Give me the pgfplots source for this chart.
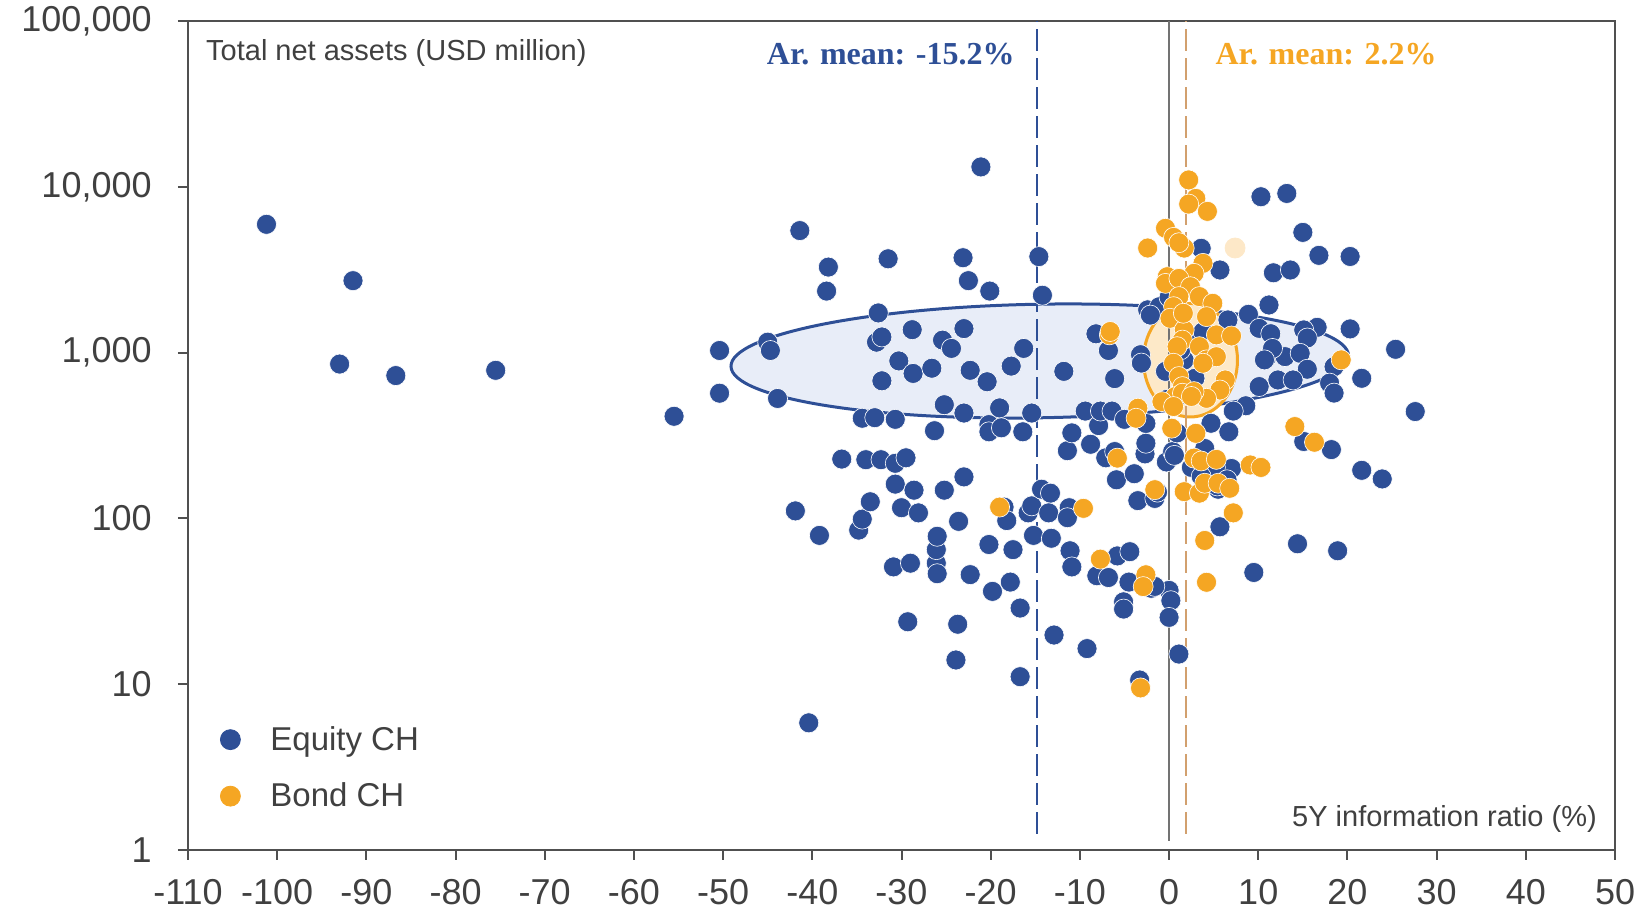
\documentclass[border=0pt]{standalone}
\usepackage{pgfplots}
\pgfplotsset{compat=1.18}
\usepackage{fontspec}
\setmainfont{Liberation Sans}
\newfontfamily\meanfont{Liberation Serif}
\definecolor{eqblue}{HTML}{2E4F96}
\definecolor{bondor}{HTML}{F5A623}
\definecolor{peach}{HTML}{FDE8C8}
\definecolor{ellblue}{HTML}{E8EDF8}
\definecolor{ellor}{HTML}{FDE9C8}
\definecolor{tanline}{HTML}{D2A06E}
\definecolor{axgrey}{HTML}{505050}
\definecolor{txtgrey}{HTML}{404040}
\begin{document}
\begin{tikzpicture}
\useasboundingbox (-94pt,-31pt) rectangle (724pt,425pt);
\begin{axis}[
  scale only axis, width=713.5pt, height=414.5pt,
  xmin=-110, xmax=50, ymode=log, ymin=1, ymax=100000,
  axis line style={draw=axgrey, line width=1pt},
  xtick={-110,-100,...,50},
  xticklabels={-110,-100,-90,-80,-70,-60,-50,-40,-30,-20,-10,0,10,20,30,40,50},
  ytick={1,10,100,1000,10000,100000},
  yticklabels={1,10,100,{1,000},{10,000},{100,000}},
  yminorticks=false,
  xtick pos=lower, ytick pos=left,
  tick align=outside, major tick length=5pt,
  tick style={draw=axgrey, line width=1pt},
  xticklabel style={font=\fontsize{18}{18}\selectfont, text=txtgrey, inner sep=0pt, anchor=north, yshift=-9.5pt},
  yticklabel style={font=\fontsize{18}{18}\selectfont, text=txtgrey, inner sep=0pt, anchor=east, xshift=-13pt},
  legend style={draw=none, fill=none, at={(rel axis cs:0,0)}, anchor=south west, xshift=15.8pt, yshift=20pt,
    font=\fontsize{16.5}{20}\selectfont, text=txtgrey, row sep=14.8pt, column sep=14.8pt, inner sep=0pt,
    nodes={inner sep=0pt}},
  legend cell align=left,
  legend image code/.code={\fill[#1] (5pt,0pt) circle (5pt);},
]
% ellipses
\draw[eqblue, line width=1.5pt, fill=ellblue, rotate around={1:(axis cs:-14.5,890)}] (axis cs:-14.5,890) ellipse [x radius=154.4pt, y radius=28.4pt];
\draw[bondor, line width=1.5pt, fill=ellor] (axis cs:2.4,900) ellipse [x radius=23.5pt, y radius=28.4pt];

\addplot[only marks, mark=*, color=eqblue, mark size=5pt, mark options={draw=white, line width=0.3pt, fill=eqblue}] coordinates {
(-101.2,5940) (-91.5,2716) (-93.0,853) (-86.7,727) (-75.5,782) (-55.5,413)
(-50.4,1030) (-50.4,569) (-45.0,1156) (-44.7,1030) (-43.9,529) (-41.4,5445)
(-41.9,111) (-40.4,5.85) (-39.2,79) (-38.2,3280) (-38.4,2350) (-36.7,228)
(-34.8,85) (-34.4,99) (-34.4,402) (-33.5,126) (-34.0,226) (-33.0,405)
(-32.6,1735) (-32.8,1156) (-32.2,1243) (-31.5,3680) (-32.2,676) (-32.3,226)
(-30.9,51) (-30.7,161) (-30.7,396) (-30.7,215) (-30.3,891) (-30.0,116)
(-29.5,232) (-29.3,23.8) (-29.0,53.7) (-28.8,1375) (-28.7,749) (-28.6,148)
(-28.1,108) (-26.6,805) (-26.3,338) (-26.1,53.7) (-26.1,64.8) (-26.0,78)
(-26.0,46.4) (-25.4,1189) (-25.2,148) (-25.2,485) (-24.4,1060) (-23.7,23)
(-23.9,14.0) (-23.6,96) (-23.0,432) (-23.0,178) (-23.1,3735) (-23.0,1396)
(-22.5,2716) (-22.3,782) (-22.3,45.8) (-21.1,13180) (-20.4,667) (-20.2,69.6)
(-20.2,368) (-20.1,2350) (-20.2,333) (-19.8,36.3) (-19.0,464) (-18.8,352)
(-18.5,117) (-18.2,97) (-17.8,41.3) (-17.7,829) (-17.5,64.8) (-16.7,28.8)
(-16.7,11.1) (-16.3,1060) (-16.4,333) (-15.8,108) (-15.4,119) (-15.2,79)
(-14.6,3793) (-14.2,2218) (-15.4,432) (-14.3,150) (-13.3,142) (-13.5,108)
(-13.2,75.9) (-12.9,19.8) (-11.8,771) (-11.4,256) (-11.2,116) (-11.1,63.8)
(-10.9,51) (-10.9,328) (-11.4,101) (-9.4,444) (-9.2,16.4) (-8.8,280)
(-8.2,1298) (-8.1,45.1) (-7.9,363) (-7.7,444) (-7.1,232) (-6.8,44)
(-6.8,1030) (-6.4,444) (-6.1,253) (-6.1,697) (-5.9,171) (-5.8,59.4)
(-5.1,31.4) (-5.1,28.4) (-5.0,396) (-4.5,41.3) (-4.4,63) (-3.9,186)
(-3.5,128) (-3.3,10.6) (-3.2,971) (-3.1,865) (-2.7,245) (-2.6,374)
(-2.6,284) (-2.4,1811) (-2.0,37.9) (-1.6,132) (-1.3,144) (-1.1,1891)
(-0.4,771) (-0.3,219) (0.0,36.8) (0.2,31.9) (0.0,25.3) (0.4,253)
(0.6,240) (1.1,15.2) (0.9,328) (0.0,2155) (0.8,2640) (1.2,552)
(-0.3,521) (1.7,900) (2.9,700) (2.0,1200) (-2.1,1684) (-1.6,38.9)
(3.6,4256) (5.7,3150) (10.3,8710) (13.2,9120) (15.0,5310) (16.8,3860)
(20.3,3800) (11.7,3030) (13.6,3150) (11.2,1938) (8.9,1702) (6.6,1574)
(20.3,1390) (16.6,1420) (15.1,1370) (15.5,1225) (10.1,1400) (11.4,1300)
(10.9,925) (13.0,946) (14.7,990) (11.6,1060) (15.5,794) (12.2,684)
(13.9,684) (10.1,624) (18.5,822) (18.0,655) (18.5,570) (21.6,700)
(25.4,1047) (27.6,441) (8.6,478) (7.2,444) (6.7,333) (4.7,375)
(10.7,904) (1.3,1040) (1.1,569) (3.8,1336) (15.1,291) (18.2,260)
(21.6,195) (23.9,173) (7.0,200) (4.3,215) (5.2,203) (2.5,203)
(3.6,179) (5.5,150) (5.4,157) (6.5,171) (5.7,89) (9.5,47.2)
(14.4,70.3) (18.9,63.8) (4.0,264)
};
\addlegendentry{Equity CH}
\addplot[only marks, mark=*, color=bondor, mark size=5pt, mark options={draw=white, line width=0.3pt, fill=bondor}] coordinates {
(2.2,11000) (3.0,8510) (2.2,7870) (4.3,7110) (-0.4,5620) (0.5,4955)
(-2.4,4275) (1.7,4270) (1.1,4600) (3.8,3455) (2.8,3006) (-0.2,2870)
(-0.4,2616) (1.1,2800) (2.4,2497) (3.4,2177) (4.9,1983) (4.2,1648)
(1.1,2177) (0.5,1893) (0.1,1611) (1.7,1370) (1.5,1190) (0.9,1086)
(5.3,1279) (7.0,1260) (-6.7,1279) (-6.6,1340) (3.4,1086) (4.2,904)
(5.3,944) (3.8,863) (0.5,863) (1.1,717) (1.5,624) (0.7,543)
(1.5,569) (6.3,684) (5.7,595) (4.2,530) (2.8,582) (-0.8,506)
(19.3,904) (-3.5,462) (-3.7,402) (0.3,350) (3.0,326) (14.1,358)
(16.3,288) (-5.8,231) (2.8,231) (3.6,222) (5.3,227) (9.1,210)
(10.3,203) (-1.6,149) (1.7,145) (3.4,142) (4.0,163) (5.5,163)
(6.8,152) (-9.6,115) (-19.0,117) (7.2,108) (4.0,73.6) (-7.7,56.8)
(-2.6,45.7) (-2.9,38.8) (4.2,41.2) (-3.2,9.5) (0.5,473) (2.5,544)
(1.6,1727)
};
\addlegendentry{Bond CH}
\addplot[only marks, mark=*, color=peach, mark size=5pt, mark options={draw=none, fill=peach}, forget plot] coordinates {(7.4,4275)};

% reference lines (drawn over the points)
\draw[black!55, line width=0.6pt] (axis cs:0,1.14) -- (axis cs:0,100000);
\draw[eqblue, line width=1pt, dash pattern=on 11pt off 3.5pt] (axis cs:-14.8,1.25) -- (axis cs:-14.8,100000);
\draw[tanline, line width=1pt, dash pattern=on 11pt off 3.5pt] (axis cs:1.9,1.25) -- (axis cs:1.9,100000);

\node[font=\meanfont\bfseries\fontsize{16}{16}\selectfont, text=eqblue, anchor=base east, inner sep=0pt] at (axis cs:-14.8,54400) [xshift=-11pt] {Ar. mean: -15.2\%};
\node[font=\meanfont\bfseries\fontsize{16}{16}\selectfont, text=bondor, anchor=base west, inner sep=0pt] at (axis cs:1.9,54400) [xshift=14.6pt] {Ar. mean: 2.2\%};
\node[font=\fontsize{14.5}{14.5}\selectfont, text=txtgrey, anchor=base west, inner sep=0pt] at (rel axis cs:0,1) [xshift=8.9pt, yshift=-19.8pt] {Total net assets (USD million)};
\node[font=\fontsize{14.5}{14.5}\selectfont, text=txtgrey, anchor=base east, inner sep=0pt] at (rel axis cs:1,0) [xshift=-8.9pt, yshift=12pt] {5Y information ratio (\%)};
\end{axis}
\end{tikzpicture}
\end{document}
